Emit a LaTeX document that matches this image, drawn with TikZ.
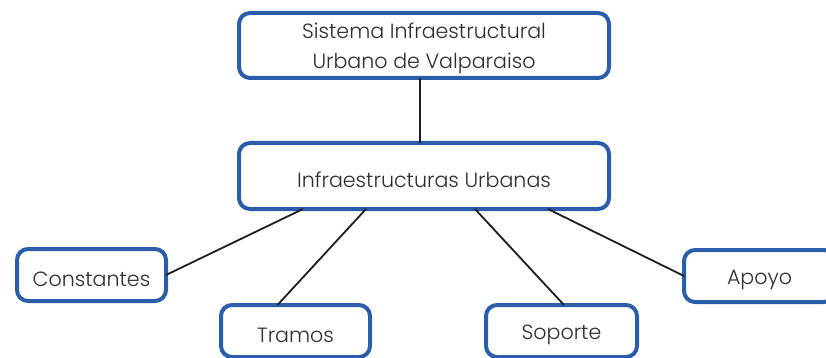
\documentclass[tikz,border=0pt]{standalone}
\usepackage{fontspec}
\setmainfont{Poppins}[UprightFont=* Light]
\usetikzlibrary{calc}
\definecolor{boxblue}{RGB}{43,94,168}
\definecolor{txt}{RGB}{45,45,45}
\definecolor{lin}{RGB}{30,30,30}
\newcommand{\lowtxt}[2][-4pt]{\raisebox{#1}[\height][\depth]{#2}}
\tikzset{
  box/.style={draw=boxblue, line width=4pt, rounded corners=11pt, fill=white,
    outer sep=0pt, inner sep=2pt, text=txt, align=center,
    font=\fontsize{20.6}{30}\selectfont},
  conn/.style={draw=lin, line width=1.8pt}
}
\begin{document}
\begin{tikzpicture}[x=1pt,y=1pt]
\clip (0,0) rectangle (826,-358);
\useasboundingbox (0,0) rectangle (826,-358);
\node[box, minimum width=370pt, minimum height=65pt] (top) at (424,-45.5) {\lowtxt[-2.5pt]{\begin{tabular}{@{}c@{}}Sistema Infraestructural\\Urbano de Valparaiso\end{tabular}}};
\node[box, minimum width=370pt, minimum height=66pt] (mid) at (424,-176) {\lowtxt{Infraestructuras Urbanas}};
\node[box, minimum width=149pt, minimum height=52pt] (cons) at (91.5,-275) {\lowtxt{Constantes}};
\node[box, minimum width=149pt, minimum height=52pt] (tram) at (295.5,-331) {\lowtxt{Tramos}};
\node[box, minimum width=151pt, minimum height=52pt] (sop) at (561.5,-331) {\lowtxt{Soporte}};
\node[box, minimum width=151pt, minimum height=52pt] (apo) at (759.5,-276) {\lowtxt{Apoyo}};
\draw[conn] ($(top.south)+(-4,0)$) -- ($(mid.north)+(-4,0)$);
\draw[conn] ($(mid.south west)+(64,0)$) -- (cons.east);
\draw[conn] ($(mid.south west)+(127,0)$) -- ($(tram.north)+(-18,0)$);
\draw[conn] ($(mid.south west)+(236,0)$) -- ($(sop.north)+(2.5,0)$);
\draw[conn] ($(mid.south west)+(309,0)$) -- (apo.west);
\end{tikzpicture}
\end{document}
